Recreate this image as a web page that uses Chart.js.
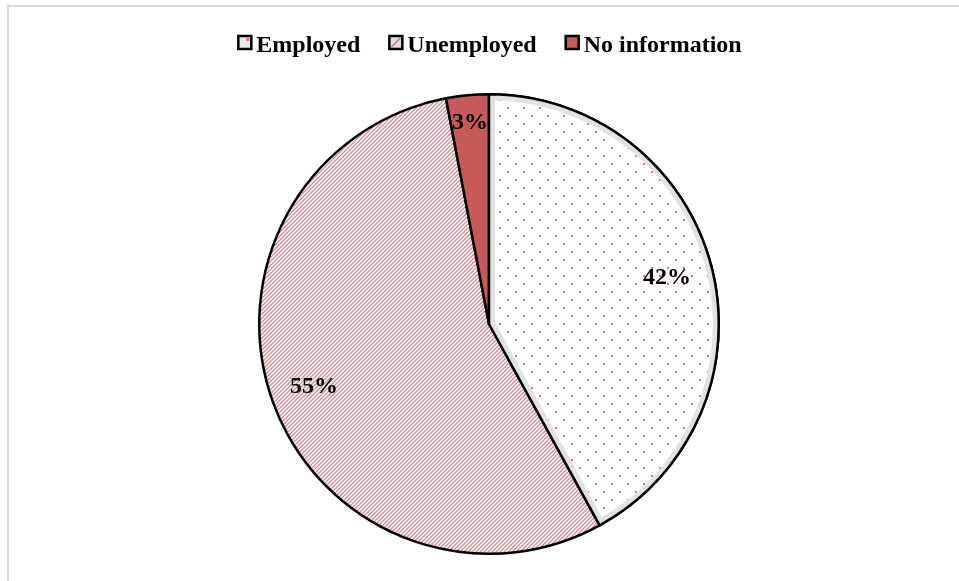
<!DOCTYPE html>
<html>
<head>
<meta charset="utf-8">
<script src="https://cdn.jsdelivr.net/npm/chart.js@4.4.0/dist/chart.umd.min.js"></script>
<style>
  html, body { margin: 0; padding: 0; background: #fff; }
  #wrap { width: 959px; height: 581px; }
</style>
</head>
<body>
<div id="wrap"><canvas id="grafico-pie"></canvas></div>
<script>
// dados
const categorias = ["Employed", "Unemployed", "No information"];
const valores = [42, 55, 3];
const rotulos = ["42%", "55%", "3%"];

const fonte = "bold 24px 'Liberation Serif', 'Times New Roman', serif";

// padrao de pontinhos (Employed)
function padraoPontos() {
  const c = document.createElement("canvas");
  c.width = 16; c.height = 16;
  const g = c.getContext("2d");
  g.fillStyle = "#ffffff";
  g.fillRect(0, 0, 16, 16);
  g.fillStyle = "#e0707e";
  g.fillRect(3, 3, 2, 2);
  g.fillRect(11, 11, 2, 2);
  return g.createPattern(c, "repeat");
}

// padrao de listras diagonais (Unemployed)
function padraoListras() {
  const n = 4;
  const c = document.createElement("canvas");
  c.width = n; c.height = n;
  const g = c.getContext("2d");
  g.fillStyle = "#f8f0f1";
  g.fillRect(0, 0, n, n);
  g.strokeStyle = "#cc8790";
  g.lineWidth = 1.2;
  g.beginPath();
  g.moveTo(0, n); g.lineTo(n, 0);
  g.moveTo(-1, 1); g.lineTo(1, -1);
  g.moveTo(n - 1, n + 1); g.lineTo(n + 1, n - 1);
  g.stroke();
  return g.createPattern(c, "repeat");
}

const cores = [padraoPontos(), padraoListras(), "#c65a58"];

// moldura cinza
const moldura = {
  id: "moldura",
  beforeDraw(chart) {
    const ctx = chart.ctx;
    ctx.save();
    ctx.strokeStyle = "#d9d9d9";
    ctx.lineWidth = 2;
    ctx.beginPath();
    ctx.moveTo(8, chart.height);
    ctx.lineTo(8, 6);
    ctx.lineTo(chart.width, 6);
    ctx.stroke();
    ctx.restore();
  }
};

// borda interna cinza da fatia Employed
const bordaInterna = {
  id: "bordaInterna",
  afterDatasetsDraw(chart) {
    const arc = chart.getDatasetMeta(0).data[0];
    const ctx = chart.ctx;
    const caminho = () => {
      ctx.beginPath();
      ctx.moveTo(arc.x, arc.y);
      ctx.arc(arc.x, arc.y, arc.outerRadius, arc.startAngle, arc.endAngle);
      ctx.closePath();
    };
    ctx.save();
    caminho();
    ctx.clip();
    ctx.strokeStyle = "#e2e2e2";
    ctx.lineWidth = 12;
    caminho();
    ctx.stroke();
    ctx.restore();
    ctx.save();
    ctx.strokeStyle = "#000";
    ctx.lineWidth = 2.5;
    ctx.lineJoin = "round";
    caminho();
    ctx.stroke();
    ctx.restore();
  }
};

// rotulos de porcentagem
const rotulosPlugin = {
  id: "rotulosPlugin",
  afterDraw(chart) {
    const ctx = chart.ctx;
    const fator = [0.80, 0.81, 0.88];
    ctx.save();
    ctx.font = fonte;
    ctx.fillStyle = "#000";
    ctx.textAlign = "center";
    ctx.textBaseline = "middle";
    chart.getDatasetMeta(0).data.forEach((arc, i) => {
      const a = (arc.startAngle + arc.endAngle) / 2;
      const r = arc.outerRadius * fator[i];
      ctx.fillText(rotulos[i], arc.x + Math.cos(a) * r, arc.y + Math.sin(a) * r);
    });
    ctx.restore();
  }
};

// legenda desenhada a mao
const legenda = {
  id: "legenda",
  afterDraw(chart) {
    const ctx = chart.ctx;
    ctx.save();
    ctx.font = fonte;
    const caixa = 13, gap = 5, espaco = 29;
    const larguras = categorias.map(t => ctx.measureText(t).width);
    const total = larguras.reduce((s, w) => s + w, 0) + categorias.length * (caixa + gap) + (categorias.length - 1) * espaco;
    let x = 490 - total / 2;
    const yCaixa = 36;
    categorias.forEach((t, i) => {
      if (i === 0) {
        ctx.fillStyle = "#e8e8e8";
        ctx.fillRect(x, yCaixa, caixa, caixa);
        ctx.fillStyle = "#e0707e";
        ctx.fillRect(x + caixa - 5, yCaixa + 2, 3, 3);
      } else if (i === 1) {
        ctx.fillStyle = "#e4dcdd";
        ctx.fillRect(x, yCaixa, caixa, caixa);
        ctx.strokeStyle = "#c77d87";
        ctx.lineWidth = 1.5;
        ctx.beginPath();
        ctx.moveTo(x + 2, yCaixa + caixa - 2);
        ctx.lineTo(x + caixa - 2, yCaixa + 2);
        ctx.stroke();
      } else {
        ctx.fillStyle = "#c65a58";
        ctx.fillRect(x, yCaixa, caixa, caixa);
      }
      ctx.strokeStyle = "#000";
      ctx.lineWidth = 2.5;
      ctx.strokeRect(x, yCaixa, caixa, caixa);
      ctx.fillStyle = "#000";
      ctx.textBaseline = "alphabetic";
      ctx.fillText(t, x + caixa + gap, 52);
      x += caixa + gap + larguras[i] + espaco;
    });
    ctx.restore();
  }
};

const graficoPizza = document.getElementById("grafico-pie");

new Chart(graficoPizza, {
  type: "pie",
  data: {
    labels: categorias,
    datasets: [
      {
        label: "Percent",
        data: valores,
        backgroundColor: cores,
        borderColor: "#000",
        borderWidth: 2.5
      }
    ]
  },
  options: {
    responsive: true,
    maintainAspectRatio: false,
    animation: false,
    layout: { padding: { top: 93, bottom: 26, left: 29, right: 10 } },
    plugins: {
      legend: { display: false },
      tooltip: { enabled: false }
    }
  },
  plugins: [moldura, bordaInterna, rotulosPlugin, legenda]
});
</script>
</body>
</html>
